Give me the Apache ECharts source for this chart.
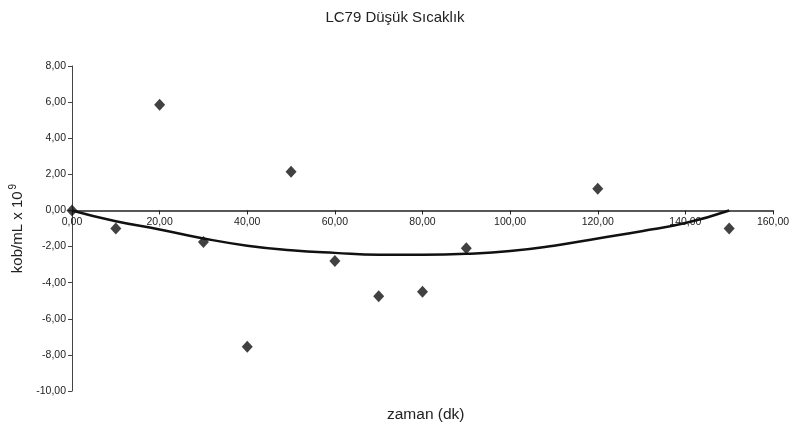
<!DOCTYPE html>
<html>
<head>
<meta charset="utf-8">
<script src="https://cdn.jsdelivr.net/npm/echarts@6/dist/echarts.min.js"></script>
<style>
html, body { margin: 0; padding: 0; background: #fff; }
#chart { width: 790px; height: 428px; }
</style>
</head>
<body>
<div id="chart"></div>
<script>
// ölçüm noktaları (zaman dk, kob/mL x 10^9)
var times = [0, 10, 20, 30, 40, 50, 60, 70, 80, 90, 120, 150];
var counts = [0, -1.0, 5.85, -1.75, -7.55, 2.15, -2.8, -4.75, -4.5, -2.1, 1.2, -1.0];
// eğilim çizgisi
var trendX = [0, 10, 20, 30, 40, 50, 60, 70, 80, 90, 100, 110, 120, 130, 140, 150];
var trendY = [0, -0.6, -1.05, -1.55, -1.95, -2.2, -2.35, -2.45, -2.45, -2.4, -2.25, -1.95, -1.55, -1.15, -0.7, 0];
var yTicks = [-10, 8, 2];
var xTicks = [0, 160, 20];

var fmt = function (v) { return v.toFixed(2).replace('.', ','); };
var font = 'Liberation Sans, Arial, sans-serif';

var gridTop = 66, gridBottom = 37, H = 428;
// x ekseni sıfır çizgisinde duruyor
var plotH = H - gridTop - gridBottom;
var zeroOffset = -plotH * (0 - yTicks[0]) / (yTicks[1] - yTicks[0]);

var chart = echarts.init(document.getElementById('chart'));
chart.setOption({
    animation: false,
    backgroundColor: '#fff',
    title: [{
        text: 'LC79 Düşük Sıcaklık',
        left: 'center',
        top: 5,
        textStyle: { fontFamily: font, fontSize: 15, fontWeight: 'normal', color: '#222' }
    }, {
        text: 'zaman (dk)',
        left: 382,
        top: 402,
        textStyle: { fontFamily: font, fontSize: 15.5, fontWeight: 'normal', color: '#222' }
    }],
    grid: { left: 72, right: 17, top: gridTop, bottom: gridBottom, outerBoundsMode: 'none', containLabel: false },
    xAxis: {
        type: 'value',
        position: 'bottom',
        offset: zeroOffset,
        min: xTicks[0], max: xTicks[1], interval: xTicks[2],
        axisLine: { onZero: false, lineStyle: { color: '#222', width: 1.5 } },
        axisTick: { show: true, length: 4, lineStyle: { color: '#222' } },
        axisLabel: { formatter: fmt, fontFamily: font, fontSize: 10.5, color: '#222', margin: 6 },
        splitLine: { show: false }
    },
    yAxis: {
        type: 'value',
        min: yTicks[0], max: yTicks[1], interval: yTicks[2],
        name: '{n|kob/mL x 10}{s|9}',
        nameLocation: 'middle',
        nameGap: 42,
        nameTextStyle: {
            rich: {
                n: { fontFamily: font, fontSize: 15, color: '#222' },
                s: { fontFamily: font, fontSize: 10, color: '#222', verticalAlign: 'top', padding: [0, 0, 10, 2] }
            }
        },
        axisLine: { show: true, onZero: false, lineStyle: { color: '#444', width: 1 } },
        axisTick: { show: true, length: 4, lineStyle: { color: '#444' } },
        axisLabel: { formatter: fmt, fontFamily: font, fontSize: 10.5, color: '#222', margin: 6 },
        splitLine: { show: false }
    },
    series: [{
        type: 'line',
        data: trendX.map(function (x, i) { return [x, trendY[i]]; }),
        smooth: true,
        showSymbol: false,
        lineStyle: { color: '#111', width: 2.5 },
        z: 2
    }, {
        type: 'scatter',
        data: times.map(function (x, i) { return [x, counts[i]]; }),
        symbol: 'diamond',
        symbolSize: [11, 12],
        itemStyle: { color: '#111' },
        z: 3
    }]
});
</script>
</body>
</html>
